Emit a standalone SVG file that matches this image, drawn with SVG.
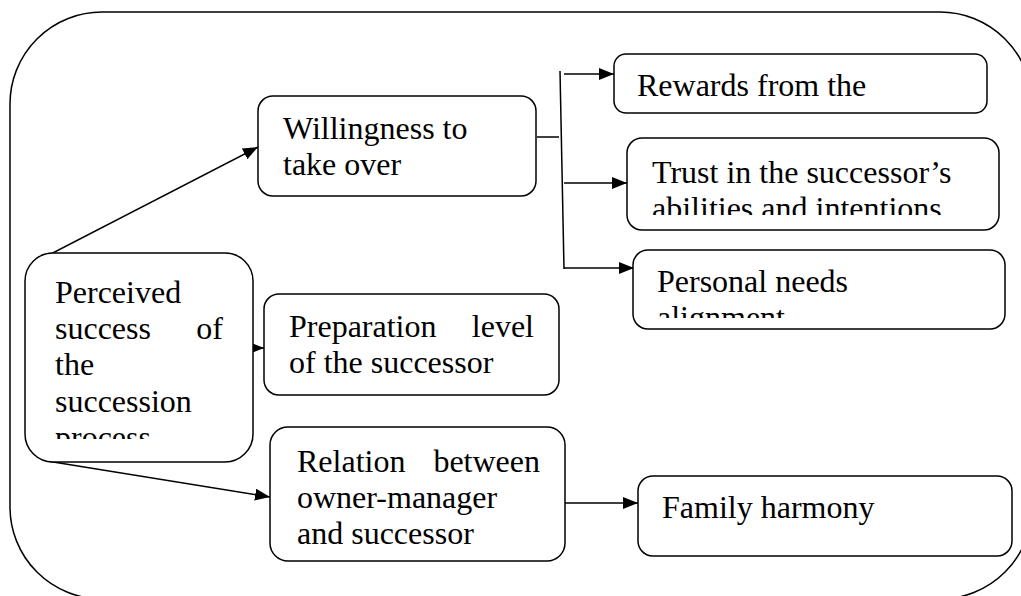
<svg xmlns="http://www.w3.org/2000/svg" width="1021" height="596" viewBox="0 0 1021 596">
<style>
.box{fill:#fff;stroke:#000;stroke-width:1.5}
.t{font-family:'Liberation Serif', 'Times New Roman', Times, serif;font-size:32px;fill:#000}
.c{fill:none;stroke:#000;stroke-width:1.5}
</style>
<defs>
<marker id="ah" markerWidth="15" markerHeight="12" refX="15" refY="6" orient="auto" markerUnits="userSpaceOnUse">
<path d="M0,0 L15,6 L0,12 z" fill="#000"/>
</marker>
<clipPath id="clipTrust"><rect x="627" y="138" width="372" height="77"/></clipPath>
<clipPath id="clipPers"><rect x="633" y="250" width="372" height="68"/></clipPath>
<clipPath id="clipPerc"><rect x="25" y="253" width="228" height="186"/></clipPath>
</defs>
<rect id="container" x="10" y="12" width="1022" height="587" rx="92" ry="92" fill="none" stroke="#000" stroke-width="1.5"/>
<g id="connectors">
<line class="c" x1="47" y1="256" x2="258" y2="147" marker-end="url(#ah)"/>
<line class="c" x1="250" y1="348" x2="264" y2="348" marker-end="url(#ah)"/>
<line class="c" x1="47" y1="461" x2="270" y2="497" marker-end="url(#ah)"/>
<line class="c" x1="537" y1="137" x2="559" y2="137"/>
<line class="c" x1="560" y1="71" x2="564" y2="269"/>
<line class="c" x1="564" y1="74" x2="614" y2="74" marker-end="url(#ah)"/>
<line class="c" x1="564" y1="183" x2="627" y2="183" marker-end="url(#ah)"/>
<line class="c" x1="564" y1="268" x2="634" y2="268" marker-end="url(#ah)"/>
<line class="c" x1="565" y1="503" x2="638" y2="503" marker-end="url(#ah)"/>
</g>
<g id="n-willingness">
<rect class="box" x="258" y="96" width="278" height="100" rx="15"/>
<text class="t" x="283" y="139">Willingness to</text>
<text class="t" x="283" y="175">take over</text>
</g>
<g id="n-rewards">
<rect class="box" x="614" y="54" width="373" height="59" rx="12"/>
<text class="t" x="637" y="96">Rewards from the</text>
</g>
<g id="n-trust">
<rect class="box" x="627" y="138" width="372" height="92" rx="15"/>
<g clip-path="url(#clipTrust)">
<text class="t" x="652" y="183">Trust in the successor’s</text>
<text class="t" x="652" y="219">abilities and intentions</text>
</g>
</g>
<g id="n-personal">
<rect class="box" x="633" y="250" width="372" height="79" rx="15"/>
<g clip-path="url(#clipPers)">
<text class="t" x="657" y="292">Personal needs</text>
<text class="t" x="657" y="328">alignment</text>
</g>
</g>
<g id="n-perceived">
<rect class="box" x="25" y="253" width="228" height="209" rx="28"/>
<g clip-path="url(#clipPerc)">
<text class="t" x="55" y="303">Perceived</text>
<text class="t" x="55" y="339">success</text>
<text class="t" x="223" y="339" text-anchor="end">of</text>
<text class="t" x="55" y="375">the</text>
<text class="t" x="55" y="412">succession</text>
<text class="t" x="55" y="448">process</text>
</g>
</g>
<g id="n-preparation">
<rect class="box" x="264" y="294" width="295" height="101" rx="15"/>
<text class="t" x="289" y="337">Preparation</text>
<text class="t" x="534" y="337" text-anchor="end">level</text>
<text class="t" x="289" y="373">of the successor</text>
</g>
<g id="n-relation">
<rect class="box" x="270" y="427" width="295" height="134" rx="18"/>
<text class="t" x="297" y="472">Relation</text>
<text class="t" x="540" y="472" text-anchor="end">between</text>
<text class="t" x="297" y="508">owner-manager</text>
<text class="t" x="297" y="544">and successor</text>
</g>
<g id="n-family">
<rect class="box" x="638" y="476" width="374" height="80" rx="15"/>
<text class="t" x="662" y="518">Family harmony</text>
</g>
</svg>
